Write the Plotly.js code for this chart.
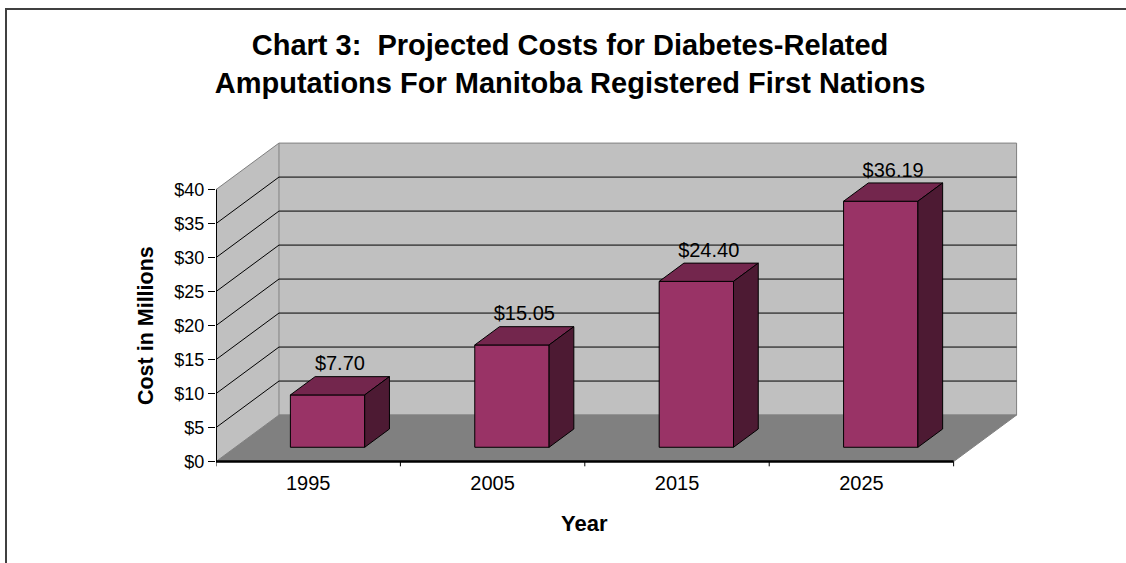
<!DOCTYPE html>
<html>
<head>
<meta charset="utf-8">
<script src="https://cdn.plot.ly/plotly-3.0.1.min.js"></script>
<style>
  html, body { margin: 0; padding: 0; background: #ffffff; overflow: hidden; }
  #frame { position: absolute; left: 5px; top: 8px; width: 3000px; height: 3000px;
           border-left: 2px solid #404040; border-top: 2px solid #404040; pointer-events: none; }
  #chart { width: 1126px; height: 563px; }
</style>
</head>
<body>
<div id="frame"></div>
<div id="chart"></div>
<script>
// ---- data ----
const years = ['1995', '2005', '2015', '2025'];
const costs = [7.70, 15.05, 24.40, 36.19];
const costLabels = ['$7.70', '$15.05', '$24.40', '$36.19'];
const yTickVals = [0, 5, 10, 15, 20, 25, 30, 35, 40];
const yTickText = ['$0', '$5', '$10', '$15', '$20', '$25', '$30', '$35', '$40'];

// ---- 3D projection settings (style) ----
const DX = 0.3415;   // depth offset in category units
const DY = 6.84;     // depth offset in value units
const D0 = 0.307;    // bar front depth fraction
const D1 = 0.70;     // bar back depth fraction
const BW = 0.403;    // bar width (category units)
const YMAX = yTickVals[yTickVals.length - 1];
const NCAT = years.length;

const FRONT = '#993366', TOP = '#73264D', SIDE = '#4D1A33';
const FONT = 'Liberation Sans, Arial, sans-serif';

const centers = years.map((_, i) => i + 0.5);

// ---- walls & floor as shapes (below traces) ----
const shapes = [];
shapes.push({ type: 'path', xref: 'x', yref: 'y', layer: 'below',
  path: `M0,0 L${DX},${DY} L${DX},${YMAX + DY} L0,${YMAX} Z`,
  fillcolor: '#c0c0c0', line: { width: 0 } });
shapes.push({ type: 'rect', xref: 'x', yref: 'y', layer: 'below',
  x0: DX, x1: NCAT + DX, y0: DY, y1: YMAX + DY,
  fillcolor: '#c0c0c0', line: { color: '#808080', width: 1 } });
shapes.push({ type: 'path', xref: 'x', yref: 'y', layer: 'below',
  path: `M0,0 L${NCAT},0 L${NCAT + DX},${DY} L${DX},${DY} Z`,
  fillcolor: '#808080', line: { color: '#808080', width: 1 } });
shapes.push({ type: 'line', xref: 'x', yref: 'y', layer: 'below',
  x0: 0, y0: YMAX, x1: DX, y1: YMAX + DY, line: { color: '#808080', width: 1 } });
yTickVals.forEach(t => {
  if (t === 0 || t === YMAX) return;
  shapes.push({ type: 'line', xref: 'x', yref: 'y', layer: 'below',
    x0: DX, y0: t + DY, x1: NCAT + DX, y1: t + DY, line: { color: '#000000', width: 1 } });
  shapes.push({ type: 'line', xref: 'x', yref: 'y', layer: 'below',
    x0: 0, y0: t, x1: DX, y1: t + DY, line: { color: '#000000', width: 1 } });
});

// ---- traces ----
const traces = [];
// front faces of bars
traces.push({
  type: 'bar', x: centers.map(c => c + D0 * DX), y: costs, base: D0 * DY, width: BW,
  marker: { color: FRONT, line: { color: '#000000', width: 1 } },
  hoverinfo: 'skip', showlegend: false
});
// top and side faces
costs.forEach((v, i) => {
  const xl = centers[i] - BW / 2, xr = centers[i] + BW / 2;
  traces.push({
    type: 'scatter', mode: 'lines', fill: 'toself', fillcolor: TOP,
    x: [xl + D0 * DX, xr + D0 * DX, xr + D1 * DX, xl + D1 * DX, xl + D0 * DX],
    y: [v + D0 * DY, v + D0 * DY, v + D1 * DY, v + D1 * DY, v + D0 * DY],
    line: { color: '#000000', width: 1 }, hoverinfo: 'skip', showlegend: false
  });
  traces.push({
    type: 'scatter', mode: 'lines', fill: 'toself', fillcolor: SIDE,
    x: [xr + D0 * DX, xr + D1 * DX, xr + D1 * DX, xr + D0 * DX, xr + D0 * DX],
    y: [D0 * DY, D1 * DY, v + D1 * DY, v + D0 * DY, D0 * DY],
    line: { color: '#000000', width: 1 }, hoverinfo: 'skip', showlegend: false
  });
});
// value axis line (front)
traces.push({ type: 'scatter', mode: 'lines', x: [0, 0], y: [0, YMAX],
  line: { color: '#000000', width: 2 }, hoverinfo: 'skip', showlegend: false });
// category axis line (front edge of floor)
traces.push({ type: 'scatter', mode: 'lines', x: [0, NCAT], y: [0, 0],
  line: { color: '#000000', width: 2.5 }, hoverinfo: 'skip', showlegend: false });
// category boundary tick marks
const tx = [], ty = [];
for (let i = 0; i <= NCAT; i++) { tx.push(i, i, null); ty.push(0, -0.7, null); }
traces.push({ type: 'scatter', mode: 'lines', x: tx, y: ty,
  line: { color: '#000000', width: 1 }, hoverinfo: 'skip', showlegend: false });
// value labels
traces.push({
  type: 'scatter', mode: 'text',
  x: centers.map(c => c + (D0 + D1) / 2 * DX),
  y: costs.map(v => v + (D0 + D1) / 2 * DY + 3.0),
  text: costLabels, textposition: 'middle center',
  textfont: { family: FONT, size: 20, color: '#000000' },
  cliponaxis: false, hoverinfo: 'skip', showlegend: false
});

const layout = {
  width: 1126, height: 563,
  margin: { l: 216, r: 106, t: 142, b: 96, pad: 0 },
  paper_bgcolor: 'rgba(0,0,0,0)', plot_bgcolor: 'rgba(0,0,0,0)',
  showlegend: false,
  font: { family: FONT, color: '#000000' },
  title: {
    text: '<b>Chart 3:\u00a0 Projected Costs for Diabetes-Related<br>Amputations For Manitoba Registered First Nations</b>',
    font: { family: FONT, size: 29, color: '#000000' },
    x: 570 / 1126, xanchor: 'center', xref: 'container',
    y: 1 - 55 / 563, yanchor: 'top', yref: 'container'
  },
  xaxis: {
    range: [0, 4.36], showgrid: false, zeroline: false, showline: false,
    tickmode: 'array', tickvals: centers, ticktext: years, ticks: '',
    tickfont: { family: FONT, size: 20, color: '#000000' },
    ticklabelstandoff: 2, fixedrange: true
  },
  yaxis: {
    range: [-0.8, 47.0], showgrid: false, zeroline: false, showline: false,
    tickmode: 'array', tickvals: yTickVals, ticktext: yTickText,
    ticks: 'outside', ticklen: 7, tickwidth: 1, tickcolor: '#000000',
    tickfont: { family: FONT, size: 18, color: '#000000' }, fixedrange: true
  },
  annotations: [
    { text: '<b>Cost in Millions</b>', xref: 'paper', yref: 'y', x: (145.5 - 216) / 804, y: YMAX / 2,
      textangle: -90, showarrow: false, xanchor: 'center', yanchor: 'middle',
      font: { family: FONT, size: 21.5, color: '#000000' } },
    { text: '<b>Year</b>', xref: 'x', yref: 'paper', x: NCAT / 2, y: (467 - 523.5) / 325,
      showarrow: false, xanchor: 'center', yanchor: 'middle',
      font: { family: FONT, size: 22, color: '#000000' } }
  ],
  shapes: shapes
};

Plotly.newPlot('chart', traces, layout, { staticPlot: true, displayModeBar: false });
</script>
</body>
</html>
